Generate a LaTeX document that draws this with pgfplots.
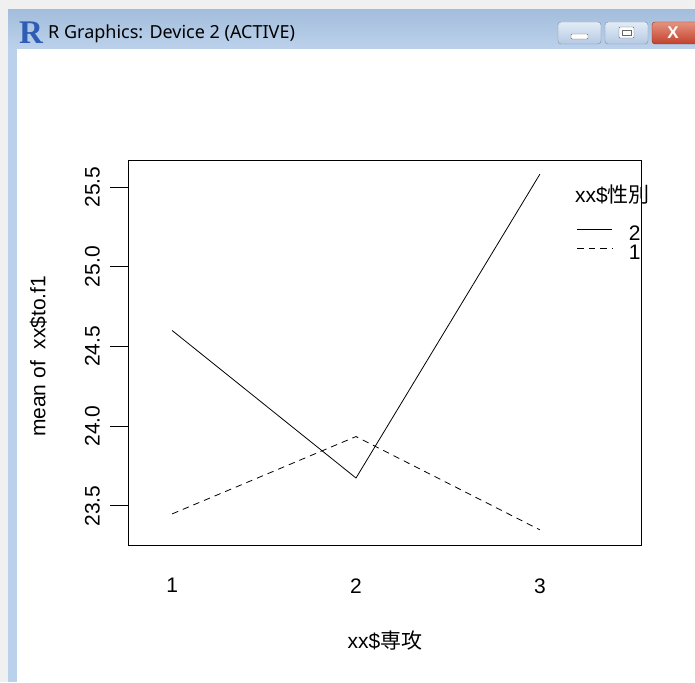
\documentclass[border=0pt]{standalone}
\usepackage{pgfplots}
\pgfplotsset{compat=1.18}
\usepackage{fontspec}
\setmainfont{Liberation Sans}
\newfontfamily\cjk{Noto Sans CJK JP}
\newfontfamily\titlefont{Noto Sans}
\newfontfamily\rfont{Liberation Serif}
\definecolor{tbtop}{HTML}{A3BDDC}
\definecolor{tbbot}{HTML}{BCD2EB}
\definecolor{wborder}{HTML}{B9D1EA}
\definecolor{btntop}{HTML}{E3ECF7}
\definecolor{btnbot}{HTML}{B5C9E2}
\definecolor{btnedge}{HTML}{7D8FA8}
\definecolor{closetop}{HTML}{E69380}
\definecolor{closebot}{HTML}{C2412C}
\definecolor{rblue}{HTML}{2F5DB6}
\newcommand{\plotfont}{\fontsize{21}{25}\selectfont}
\begin{document}
\begin{tikzpicture}[x=1pt,y=1pt]
\path[use as bounding box] (0,0) rectangle (695,-682);
% window chrome
\fill[black!6] (0,0) rectangle (695,-682);
\shade[top color=tbtop,bottom color=tbbot] (8,-10) rectangle (695,-49);
\fill[wborder] (8,-49) rectangle (17,-682);
\fill[white] (17,-49) rectangle (695,-682);
\node[anchor=center,text=rblue,inner sep=0pt] at (31,-33) {\rfont\fontsize{33}{33}\selectfont\bfseries R};
\node[anchor=base west,inner sep=0pt] at (48,-39) {\titlefont\fontsize{18}{20}\selectfont R Graphics: Device 2 (ACTIVE)};
\begin{scope}
\clip (0,0) rectangle (695,-682);
\shade[top color=btntop,bottom color=btnbot,draw=btnedge,rounded corners=3pt] (558,-22) rectangle (601,-44);
\shade[top color=btntop,bottom color=btnbot,draw=btnedge,rounded corners=3pt] (605,-22) rectangle (648,-44);
\shade[top color=closetop,bottom color=closebot,draw=closebot!70!black,rounded corners=3pt] (652,-22) rectangle (705,-44);
\filldraw[fill=white,draw=black!60,rounded corners=1pt] (571,-34) rectangle (588,-39);
\filldraw[fill=white,draw=black!60,rounded corners=1pt] (619,-27) rectangle (634,-38);
\draw[black!60] (622,-30.5) rectangle (631,-35);
\node[text=white,inner sep=0pt] at (673,-33) {\fontsize{17}{17}\selectfont\bfseries X};
\end{scope}
% plot
\begin{axis}[
  at={(128pt,-545pt)}, anchor=south west,
  scale only axis, width=513pt, height=385pt,
  xmin=0.76, xmax=3.55, ymin=23.255, ymax=25.669,
  axis line style={line width=0.9pt},
  xtick={1,2,3}, ytick={23.5,24.0,24.5,25.0,25.5},
  xtick pos=bottom, ytick pos=left,
  tick align=outside, major tick length=18pt,
  xtick style={draw=none}, ytick style={line width=0.9pt, black},
  x tick label style={font=\plotfont, yshift=-12pt},
  y tick label style={font=\plotfont, xshift=-10pt, rotate=90, anchor=south, inner sep=0pt},
  /pgf/number format/assume math mode=true,
  yticklabel={\pgfmathprintnumber[fixed,fixed zerofill,precision=1]{\tick}},
  xlabel={xx\$\cjk 専攻},
  ylabel={mean of\ \ xx\$to.f1},
  label style={font=\plotfont},
  xlabel style={at={(axis description cs:0.501,-0.247)}, anchor=center},
  ylabel style={at={(axis description cs:-0.175,0.49)}, anchor=center, rotate=0},
  legend style={at={(axis description cs:0.875,0.831)}, anchor=north west, draw=none, fill=none,
    font=\plotfont, inner sep=0pt, row sep=4pt,
    nodes={inner sep=0pt, text height=15pt, text depth=0pt},
    /tikz/every odd column/.append style={column sep=16pt}},
  legend image code/.code={\draw[#1] (0pt,3pt) -- (35pt,3pt);},
  clip=false,
]
\addplot[black, line width=0.8pt] coordinates {(1,24.60) (2,23.675) (3,25.58)};
\addlegendentry{2}
\addplot[black, line width=0.8pt, dash pattern=on 6.5pt off 5pt] coordinates {(1,23.45) (2,23.935) (3,23.35)};
\addlegendentry{1}
\end{axis}
\node[anchor=west,inner sep=0pt] at (575,-195) {\plotfont xx\$\cjk 性別};
\end{tikzpicture}
\end{document}
